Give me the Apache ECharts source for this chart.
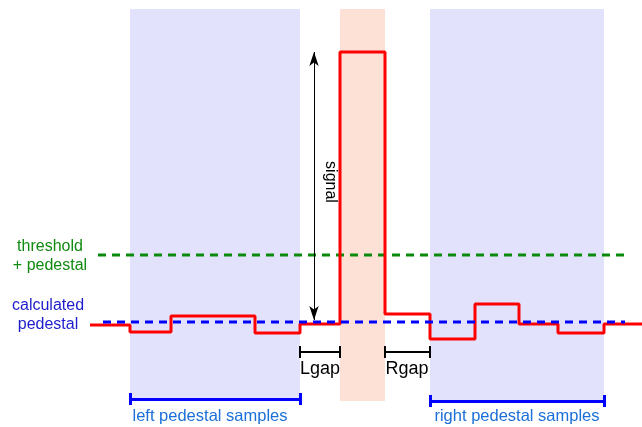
<!DOCTYPE html>
<html><head><meta charset="utf-8">
<script src="https://cdn.jsdelivr.net/npm/echarts@6/dist/echarts.min.js"></script>
<style>html,body{margin:0;padding:0;background:#fff}#c{width:642px;height:427px}</style>
</head><body><div id="c"></div>
<script>
// Sample edges (x) and step levels (y)
const stepEdges = [90, 130, 171, 255, 300, 340, 385, 430, 475, 519, 558, 604, 642];
const stepLevels = [102, 95, 111, 94, 103, 375, 113, 88, 123, 103, 94, 103];
const pedestalLevel = 105;
const thresholdLevel = 172;
const pedestalRange = [103, 625];
const thresholdRange = [98, 628];
const leftBand = [130, 300];
const signalBand = [340, 385];
const rightBand = [430, 604];
const bandY = [26, 418];
const signalArrowX = 314;
const signalArrowY = [107, 375];
const gapY = 75;
const lgap = [300, 340];
const rgap = [385, 430];
const leftBracketY = 28;
const rightBracketY = 26;

const stepData = stepEdges.map((x, i) => [x, stepLevels[Math.min(i, stepLevels.length - 1)]]);

function bracket(x0, x1, y, h, color, w) {
  return [
    [{coord: [x0, y]}, {coord: [x1, y]}],
    [{coord: [x0, y - h]}, {coord: [x0, y + h]}],
    [{coord: [x1, y - h]}, {coord: [x1, y + h]}]
  ].map(p => { p[0].lineStyle = {color: color, width: w, type: 'solid'}; return p; });
}

const chart = echarts.init(document.getElementById('c'));
const font = 'Liberation Sans, Arial, sans-serif';
chart.setOption({
  animation: false,
  grid: {left: 0, right: 0, top: 0, bottom: 0},
  xAxis: {type: 'value', min: 0, max: 642, show: false},
  yAxis: {type: 'value', min: 0, max: 427, show: false},
  series: [
    {
      type: 'line', data: [], z: 1, silent: true,
      markArea: {
        silent: true,
        data: [
          [{coord: [leftBand[0], bandY[0]], itemStyle: {color: '#e2e2fc'}}, {coord: [leftBand[1], bandY[1]]}],
          [{coord: [signalBand[0], bandY[0]], itemStyle: {color: '#fde0d6'}}, {coord: [signalBand[1], bandY[1]]}],
          [{coord: [rightBand[0], bandY[0]], itemStyle: {color: '#e2e2fc'}}, {coord: [rightBand[1], bandY[1]]}]
        ]
      }
    },
    {
      type: 'line', data: [[thresholdRange[0], thresholdLevel], [thresholdRange[1], thresholdLevel]],
      symbol: 'none', z: 2, silent: true,
      lineStyle: {color: '#0a8a0a', width: 3, type: [8, 6]}
    },
    {
      type: 'line', data: [[pedestalRange[0], pedestalLevel], [pedestalRange[1], pedestalLevel]],
      symbol: 'none', z: 4, silent: true,
      lineStyle: {color: '#0000ff', width: 3, type: [8, 6]}
    },
    {
      type: 'line', data: stepData, step: 'end', symbol: 'none', z: 3, silent: true,
      lineStyle: {color: '#ff0000', width: 3}
    },
    {
      type: 'line', data: [], z: 5, silent: true,
      markLine: {
        silent: true, symbol: ['none', 'none'], label: {show: false},
        data: [
          ...bracket(lgap[0], lgap[1], gapY, 6, '#000', 2),
          ...bracket(rgap[0], rgap[1], gapY, 6, '#000', 2),
          ...bracket(leftBand[0], leftBand[1], leftBracketY, 6, '#0000ff', 3),
          ...bracket(rightBand[0], rightBand[1], rightBracketY, 6, '#0000ff', 3)
        ]
      }
    },
    {
      type: 'line', data: [], z: 6, silent: true,
      markLine: {
        silent: true, symbol: ['arrow', 'arrow'], symbolSize: [7, 14], label: {show: false},
        lineStyle: {color: '#000', width: 1, type: 'solid'},
        data: [[{coord: [signalArrowX, signalArrowY[0]]}, {coord: [signalArrowX, signalArrowY[1]]}]]
      }
    }
  ],
  graphic: [
    {type: 'text', x: 50, y: 256, style: {text: 'threshold\n+ pedestal', fill: '#118a11', font: '16px ' + font, align: 'center', verticalAlign: 'middle', lineHeight: 19}},
    {type: 'text', x: 48, y: 315, style: {text: 'calculated\npedestal', fill: '#1c1ccc', font: '16px ' + font, align: 'center', verticalAlign: 'middle', lineHeight: 19}},
    {type: 'text', x: 330, y: 182, rotation: -Math.PI / 2, style: {text: 'signal', fill: '#000', font: '16px ' + font, align: 'center', verticalAlign: 'middle'}},
    {type: 'text', x: 320, y: 369, style: {text: 'Lgap', fill: '#000', font: '18px ' + font, align: 'center', verticalAlign: 'middle'}},
    {type: 'text', x: 407, y: 369, style: {text: 'Rgap', fill: '#000', font: '18px ' + font, align: 'center', verticalAlign: 'middle'}},
    {type: 'text', x: 210, y: 416, style: {text: 'left pedestal samples', fill: '#1a6fd8', font: '16.5px ' + font, align: 'center', verticalAlign: 'middle'}},
    {type: 'text', x: 517, y: 416, style: {text: 'right pedestal samples', fill: '#1a6fd8', font: '16.5px ' + font, align: 'center', verticalAlign: 'middle'}}
  ]
});
</script></body></html>
